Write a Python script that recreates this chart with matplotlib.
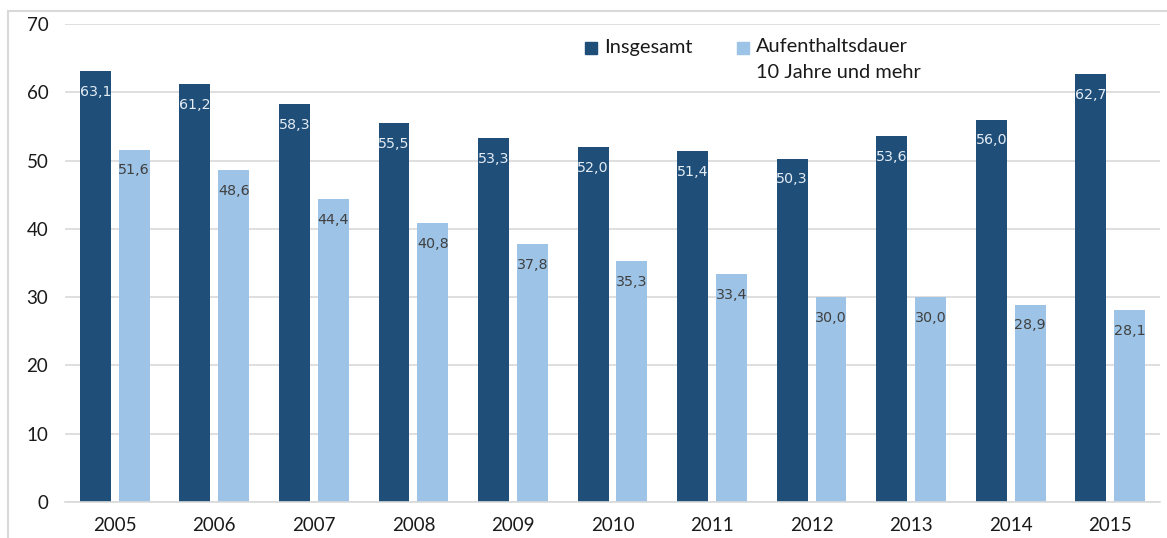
import matplotlib
matplotlib.use("Agg")
import matplotlib.pyplot as plt
from matplotlib.lines import Line2D
from matplotlib.patches import Rectangle
import numpy as np

years = ["2005", "2006", "2007", "2008", "2009", "2010",
         "2011", "2012", "2013", "2014", "2015"]
insgesamt = [63.1, 61.2, 58.3, 55.5, 53.3, 52.0, 51.4, 50.3, 53.6, 56.0, 62.7]
aufenthalt = [51.6, 48.6, 44.4, 40.8, 37.8, 35.3, 33.4, 30.0, 30.0, 28.9, 28.1]
series_names = ["Insgesamt", "Aufenthaltsdauer\n10 Jahre und mehr"]

DARK = "#1F4E79"
LIGHT = "#9DC3E6"
GRID = "#D9D9D9"

W, H = 1167, 538
fig = plt.figure(figsize=(W / 100, H / 100), dpi=100)
ax = fig.add_axes([65 / W, 1 - 502 / H, (1160 - 65) / W, (502 - 24) / H])

x = np.arange(len(years))
bw = 0.31
off = 0.195
b1 = ax.bar(x - off, insgesamt, bw, color=DARK, zorder=2)
b2 = ax.bar(x + off, aufenthalt, bw, color=LIGHT, zorder=2)


def fmt(v):
    return f"{v:.1f}".replace(".", ",")


for xi, v in zip(x - off, insgesamt):
    ax.annotate(fmt(v), (xi, v), xytext=(0, -15), textcoords="offset points",
                ha="center", va="center", fontsize=10.3, color="#E4ECF4",
                family="DejaVu Sans", zorder=3)
for xi, v in zip(x + off, aufenthalt):
    ax.annotate(fmt(v), (xi, v), xytext=(0, -15), textcoords="offset points",
                ha="center", va="center", fontsize=10.3, color="#404040",
                family="DejaVu Sans", zorder=3)

ax.set_xlim(-0.5, len(years) - 0.5)
ax.set_ylim(0, 70)
ax.set_yticks(range(0, 71, 10))
ax.yaxis.grid(True, color=GRID, linewidth=1.2, zorder=0)
ax.set_axisbelow(True)
for s in ["top", "right", "left"]:
    ax.spines[s].set_visible(False)
ax.spines["bottom"].set_color(GRID)
ax.spines["bottom"].set_linewidth(1.2)
ax.set_xticks(x)
ax.set_xticklabels(years)
ax.tick_params(axis="both", length=0, labelsize=13.5, colors="#1A1A1A")
ax.tick_params(axis="y", pad=12)
ax.tick_params(axis="x", pad=11)
for lab in ax.get_xticklabels() + ax.get_yticklabels():
    lab.set_family("Lato")

# Legend
def fx(px):
    return px / W


def fy(py):
    return 1 - py / H


LEG_FS = 14.4
fig.patches.append(Rectangle((fx(585), fy(54)), 12 / W, 12 / H, color=DARK,
                             transform=fig.transFigure, figure=fig))
fig.text(fx(604), fy(47), series_names[0], ha="left", va="center",
         fontsize=LEG_FS, family="Lato", color="#1A1A1A")
fig.patches.append(Rectangle((fx(737), fy(54)), 12 / W, 12 / H, color=LIGHT,
                             transform=fig.transFigure, figure=fig))
line1, line2 = series_names[1].split("\n")
fig.text(fx(756), fy(47), line1, ha="left", va="center",
         fontsize=LEG_FS, family="Lato", color="#1A1A1A")
fig.text(fx(756), fy(73), line2, ha="left", va="center",
         fontsize=LEG_FS, family="Lato", color="#1A1A1A")

# Outer chart frame
fig.add_artist(Line2D([fx(8), fx(8)], [fy(11), 0], color=GRID, lw=1.5,
                      transform=fig.transFigure))
fig.add_artist(Line2D([fx(8), 1], [fy(11), fy(11)], color=GRID, lw=1.5,
                      transform=fig.transFigure))

fig.savefig("out.png", dpi=100)
